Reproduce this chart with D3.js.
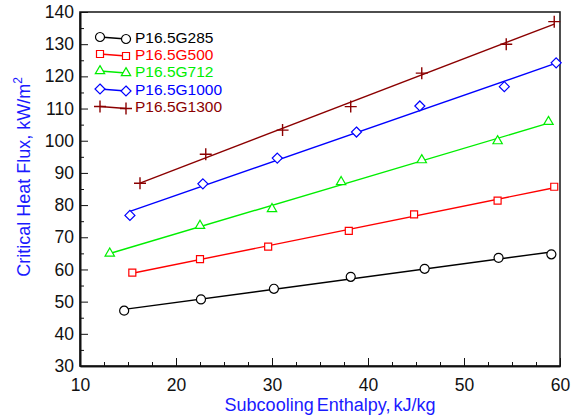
<!DOCTYPE html>
<html><head><meta charset="utf-8">
<script src="https://cdn.jsdelivr.net/npm/d3@7"></script>
<style>body{margin:0;background:#fff}svg{display:block;font-family:Arial,"Liberation Sans",sans-serif}</style>
</head><body><svg id="c" width="580" height="420"></svg>
<script>
const seriesNames = ["P16.5G285","P16.5G500","P16.5G712","P16.5G1000","P16.5G1300"];
const seriesColors = ["#000000","#ff0000","#00ee00","#0000ff","#8b0000"];
const seriesSymbols = ["circle","square","triangle","diamond","plus"];
const x285  = [14.6, 22.6, 30.2, 38.2, 45.9, 53.6, 59.1];
const y285  = [47.2, 50.7, 54.0, 57.7, 60.2, 63.6, 64.7];
const x500  = [15.45, 22.5, 29.6, 38.0, 44.8, 53.5, 59.4];
const y500  = [59.0, 63.2, 67.1, 72.0, 77.1, 81.4, 85.7];
const x712  = [13.1, 22.5, 30.0, 37.2, 45.6, 53.5, 58.8];
const y712  = [65.0, 73.6, 78.8, 87.2, 94.0, 99.9, 105.9];
const x1000 = [15.2, 22.8, 30.55, 38.8, 45.4, 54.2, 59.6];
const y1000 = [76.8, 86.6, 94.6, 102.7, 110.8, 116.8, 124.2];
const x1300 = [16.25, 23.1, 31.1, 38.2, 45.6, 54.4, 59.4];
const y1300 = [86.8, 95.8, 103.3, 110.6, 121.0, 130.0, 137.0];
const xTicks = [10, 20, 30, 40, 50, 60];
const yTicks = [30, 40, 50, 60, 70, 80, 90, 100, 110, 120, 130, 140];
const xTitle = "Subcooling Enthalpy, kJ/kg";
const yTitle = "Critical Heat Flux, kW/m";

const xs = [x285, x500, x712, x1000, x1300];
const ys = [y285, y500, y712, y1000, y1300];

const svg = d3.select("#c");
const L = 80, R = 560, T = 12, B = 366;
const x = d3.scaleLinear().domain([10, 60]).range([L, R]);
const y = d3.scaleLinear().domain([30, 140]).range([B, T]);

// frame
svg.append("rect").attr("x", L).attr("y", T).attr("width", R - L).attr("height", B - T)
  .attr("fill", "none").attr("stroke", "#222").attr("stroke-width", 1.6);

// minor ticks
const xMinor = d3.range(10, 60.01, 2.5).filter(v => xTicks.indexOf(v) < 0);
const yMinor = d3.range(30, 140.01, 5).filter(v => yTicks.indexOf(v) < 0);

const gx = svg.append("g").attr("transform", `translate(0,${B})`)
  .call(d3.axisBottom(x).tickValues(xTicks).tickSizeInner(-8).tickSizeOuter(0).tickPadding(14).tickFormat(d3.format("d")));
const gxm = svg.append("g").attr("transform", `translate(0,${B})`)
  .call(d3.axisBottom(x).tickValues(xMinor).tickSizeInner(-4).tickSizeOuter(0).tickFormat(""));
const gy = svg.append("g").attr("transform", `translate(${L},0)`)
  .call(d3.axisLeft(y).tickValues(yTicks).tickSizeInner(-8).tickSizeOuter(0).tickPadding(14).tickFormat(d3.format("d")));
const gym = svg.append("g").attr("transform", `translate(${L},0)`)
  .call(d3.axisLeft(y).tickValues(yMinor).tickSizeInner(-4).tickSizeOuter(0).tickFormat(""));
[gx, gxm, gy, gym].forEach(g => {
  g.select(".domain").attr("stroke", "#111").attr("stroke-width", 1.6);
  g.selectAll(".tick line").attr("stroke", "#111").attr("stroke-width", 1);
  g.selectAll("text").attr("font-size", 17.5).attr("fill", "#111").attr("font-family", "Arial, 'Liberation Sans', sans-serif");
});
gy.selectAll("text").attr("dx", 8);
gx.selectAll("text").attr("dy", "0.6em");

// titles
svg.append("text").attr("x", 330).attr("y", 411).attr("text-anchor", "middle")
  .attr("font-size", 18).attr("fill", "#1a1aff").attr("word-spacing", -2).text(xTitle);
const yt = svg.append("text").attr("transform", "translate(30,177) rotate(-90)").attr("text-anchor", "middle")
  .attr("font-size", 18).attr("fill", "#1a1aff");
yt.append("tspan").text(yTitle);
yt.append("tspan").attr("font-size", 12).attr("dy", -8).text("2");

function symbolPath(kind) {
  if (kind === "plus") return "M-6,0H6M0,-6V6";
  if (kind === "diamond") return "M0,-5L5,0L0,5L-5,0Z";
  if (kind === "square") return "M-3.5,-3.5H3.5V3.5H-3.5Z";
  const m = {circle: [d3.symbolCircle, 64], triangle: [d3.symbolTriangle, 38]};
  return d3.symbol().type(m[kind][0]).size(m[kind][1])();
}

// fit lines + markers
seriesNames.forEach((name, i) => {
  const xv = xs[i], yv = ys[i];
  const mx = d3.mean(xv), my = d3.mean(yv);
  const b = d3.sum(xv.map((v, k) => (v - mx) * (yv[k] - my))) / d3.sum(xv.map(v => (v - mx) * (v - mx)));
  const a = my - b * mx;
  const x0 = d3.min(xv), x1 = d3.max(xv);
  svg.append("line").attr("x1", x(x0)).attr("y1", y(a + b * x0)).attr("x2", x(x1)).attr("y2", y(a + b * x1))
    .attr("stroke", seriesColors[i]).attr("stroke-width", 1.4);
  const kind = seriesSymbols[i];
  svg.append("g").selectAll("path").data(xv.map((v, k) => [v, yv[k]])).join("path")
    .attr("transform", d => `translate(${x(d[0])},${y(d[1])})`)
    .attr("d", symbolPath(kind))
    .attr("fill", kind === "plus" ? "none" : "#fff")
    .attr("stroke", seriesColors[i]).attr("stroke-width", kind === "plus" ? 1.4 : 1.2);
});

// legend
const legY = [37, 54, 71, 89, 106.5];
seriesNames.forEach((name, i) => {
  const g = svg.append("g");
  const yy = legY[i];
  g.append("line").attr("x1", 100).attr("y1", yy).attr("x2", 126).attr("y2", yy + 2)
    .attr("stroke", seriesColors[i]).attr("stroke-width", 1.3);
  [[100, yy], [126, yy + 2]].forEach(p => {
    g.append("path").attr("transform", `translate(${p[0]},${p[1]})`).attr("d", symbolPath(seriesSymbols[i]))
      .attr("fill", seriesSymbols[i] === "plus" ? "none" : "#fff").attr("stroke", seriesColors[i])
      .attr("stroke-width", seriesSymbols[i] === "plus" ? 1.4 : 1.2);
  });
  g.append("text").attr("x", 135).attr("y", yy + 5.5).attr("font-size", 15.5).attr("fill", seriesColors[i]).text(name);
});
</script></body></html>
